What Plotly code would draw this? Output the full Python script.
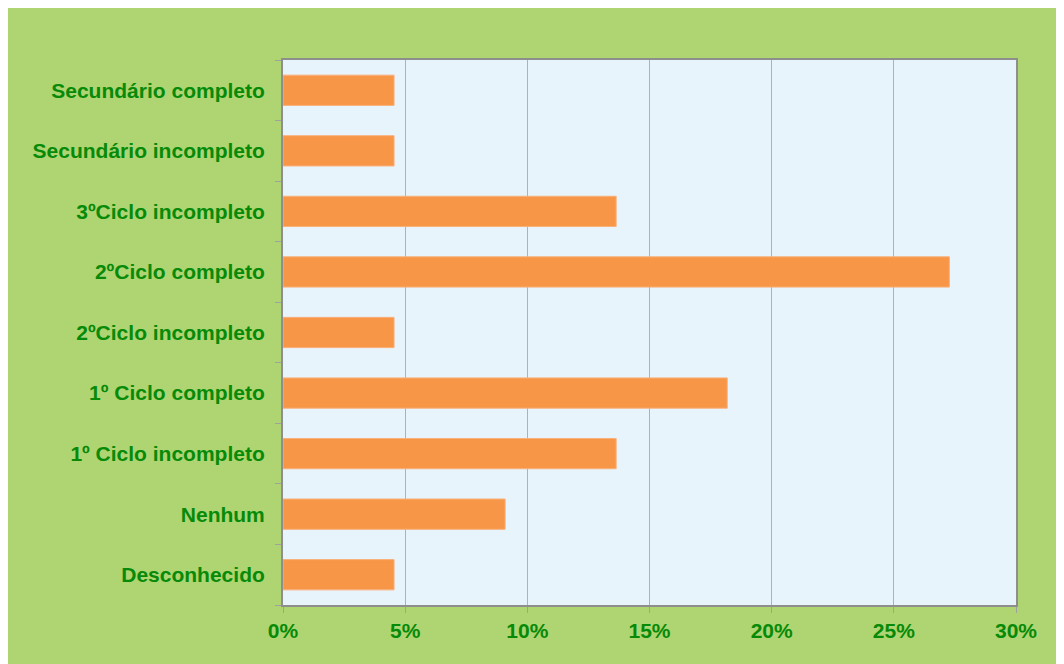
import plotly.graph_objects as go

categories = ["Desconhecido", "Nenhum", "1º Ciclo incompleto", "1º Ciclo completo",
              "2ºCiclo incompleto", "2ºCiclo completo", "3ºCiclo incompleto",
              "Secundário incompleto", "Secundário completo"]
values = [0.04545, 0.09091, 0.13636, 0.18182, 0.04545, 0.27273, 0.13636, 0.04545, 0.04545]
x_ticks = [0, 0.05, 0.10, 0.15, 0.20, 0.25, 0.30]
x_tick_labels = ["0%", "5%", "10%", "15%", "20%", "25%", "30%"]

green_text = "#078A07"
font_family = "Liberation Sans, Arial, sans-serif"

fig = go.Figure(go.Bar(
    x=values, y=categories, orientation="h",
    marker=dict(color="#F79646", line=dict(color="#F9B07A", width=1)),
    width=0.5,
))

# page body adds an 8px offset
W, H = 1056, 656
L, R, T, B = 275, 48, 52, 59

fig.update_layout(
    width=W, height=H,
    margin=dict(l=L, r=R, t=T, b=B),
    paper_bgcolor="#AED572",
    plot_bgcolor="#E8F4FC",
    showlegend=False,
    font=dict(family=font_family, size=21, color=green_text),
)

fig.update_xaxes(
    range=[0, 0.30], tickvals=x_ticks, ticktext=x_tick_labels,
    showgrid=True, gridcolor="#A9B3BC", gridwidth=1,
    showline=True, linecolor="#8E8E8E", linewidth=2, mirror=True,
    ticks="outside", ticklen=6, tickcolor="#A0A0A0",
    tickfont=dict(family=font_family, size=21, color=green_text, weight="bold"),
    zeroline=False, fixedrange=True,
)
fig.update_yaxes(
    categoryorder="array", categoryarray=categories,
    showgrid=False,
    showline=True, linecolor="#8E8E8E", linewidth=2, mirror=True,
    ticks="outside", ticklen=6, tickcolor="#A0A0A0", tickson="boundaries",
    ticklabelstandoff=12,
    tickfont=dict(family=font_family, size=21, color=green_text, weight="bold"),
    fixedrange=True,
)

fig.write_html("out.html")
